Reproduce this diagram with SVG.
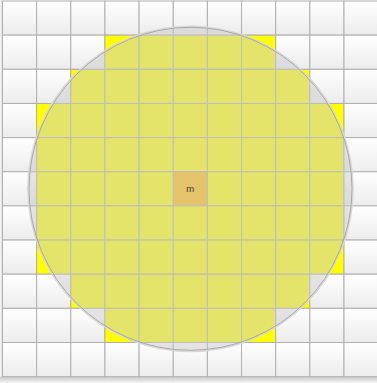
<svg xmlns="http://www.w3.org/2000/svg" xmlns:xlink="http://www.w3.org/1999/xlink" width="377" height="383" viewBox="0 0 377 383">
<style>
.w{fill:url(#gw);stroke:#b0b0b0;stroke-width:1}
.y{fill:#ffff00;stroke:#b0b0b0;stroke-width:1}
.o{fill:#ffba00;stroke:#b0b0b0;stroke-width:1}
.lbl{font-family:"Liberation Sans",Arial,sans-serif;font-size:9.5px;fill:#3a3a3a;text-anchor:middle}
</style>
<defs>
<linearGradient id="gw" x1="0" y1="0" x2="0" y2="1">
<stop offset="0" stop-color="#ffffff"/>
<stop offset="1" stop-color="#ececec"/>
</linearGradient>
<linearGradient id="gs" x1="0" y1="0" x2="0" y2="1">
<stop offset="0" stop-color="#c8c8c8"/>
<stop offset="1" stop-color="#f4f4f4"/>
</linearGradient>
<rect id="cw" class="w" width="34.15" height="34.15"/>
<rect id="cy" class="y" width="34.15" height="34.15"/>
</defs>
<rect x="0" y="0" width="377" height="383" fill="#ffffff"/>
<rect x="0" y="376.6" width="377" height="6.4" fill="url(#gs)"/>
<rect x="0.5" y="0" width="2" height="377" fill="#e6e6e6"/>
<g id="grid">
<g id="row0" transform="translate(0,1)">
<use id="c0-0" href="#cw" x="2.5"/><use id="c0-1" href="#cw" x="36.65"/><use id="c0-2" href="#cw" x="70.8"/><use id="c0-3" href="#cw" x="104.95"/><use id="c0-4" href="#cw" x="139.1"/><use id="c0-5" href="#cw" x="173.25"/><use id="c0-6" href="#cw" x="207.4"/><use id="c0-7" href="#cw" x="241.55"/><use id="c0-8" href="#cw" x="275.7"/><use id="c0-9" href="#cw" x="309.85"/><use id="c0-10" href="#cw" x="344"/>
</g>
<g id="row1" transform="translate(0,35.15)">
<use id="c1-0" href="#cw" x="2.5"/><use id="c1-1" href="#cw" x="36.65"/><use id="c1-2" href="#cw" x="70.8"/><use id="c1-3" href="#cy" x="104.95"/><use id="c1-4" href="#cy" x="139.1"/><use id="c1-5" href="#cy" x="173.25"/><use id="c1-6" href="#cy" x="207.4"/><use id="c1-7" href="#cy" x="241.55"/><use id="c1-8" href="#cw" x="275.7"/><use id="c1-9" href="#cw" x="309.85"/><use id="c1-10" href="#cw" x="344"/>
</g>
<g id="row2" transform="translate(0,69.3)">
<use id="c2-0" href="#cw" x="2.5"/><use id="c2-1" href="#cw" x="36.65"/><use id="c2-2" href="#cy" x="70.8"/><use id="c2-3" href="#cy" x="104.95"/><use id="c2-4" href="#cy" x="139.1"/><use id="c2-5" href="#cy" x="173.25"/><use id="c2-6" href="#cy" x="207.4"/><use id="c2-7" href="#cy" x="241.55"/><use id="c2-8" href="#cy" x="275.7"/><use id="c2-9" href="#cw" x="309.85"/><use id="c2-10" href="#cw" x="344"/>
</g>
<g id="row3" transform="translate(0,103.45)">
<use id="c3-0" href="#cw" x="2.5"/><use id="c3-1" href="#cy" x="36.65"/><use id="c3-2" href="#cy" x="70.8"/><use id="c3-3" href="#cy" x="104.95"/><use id="c3-4" href="#cy" x="139.1"/><use id="c3-5" href="#cy" x="173.25"/><use id="c3-6" href="#cy" x="207.4"/><use id="c3-7" href="#cy" x="241.55"/><use id="c3-8" href="#cy" x="275.7"/><use id="c3-9" href="#cy" x="309.85"/><use id="c3-10" href="#cw" x="344"/>
</g>
<g id="row4" transform="translate(0,137.6)">
<use id="c4-0" href="#cw" x="2.5"/><use id="c4-1" href="#cy" x="36.65"/><use id="c4-2" href="#cy" x="70.8"/><use id="c4-3" href="#cy" x="104.95"/><use id="c4-4" href="#cy" x="139.1"/><use id="c4-5" href="#cy" x="173.25"/><use id="c4-6" href="#cy" x="207.4"/><use id="c4-7" href="#cy" x="241.55"/><use id="c4-8" href="#cy" x="275.7"/><use id="c4-9" href="#cy" x="309.85"/><use id="c4-10" href="#cw" x="344"/>
</g>
<g id="row5" transform="translate(0,171.75)">
<use id="c5-0" href="#cw" x="2.5"/><use id="c5-1" href="#cy" x="36.65"/><use id="c5-2" href="#cy" x="70.8"/><use id="c5-3" href="#cy" x="104.95"/><use id="c5-4" href="#cy" x="139.1"/><rect id="c5-5" class="o" x="173.25" width="34.15" height="34.15"/><use id="c5-6" href="#cy" x="207.4"/><use id="c5-7" href="#cy" x="241.55"/><use id="c5-8" href="#cy" x="275.7"/><use id="c5-9" href="#cy" x="309.85"/><use id="c5-10" href="#cw" x="344"/>
</g>
<g id="row6" transform="translate(0,205.9)">
<use id="c6-0" href="#cw" x="2.5"/><use id="c6-1" href="#cy" x="36.65"/><use id="c6-2" href="#cy" x="70.8"/><use id="c6-3" href="#cy" x="104.95"/><use id="c6-4" href="#cy" x="139.1"/><use id="c6-5" href="#cy" x="173.25"/><use id="c6-6" href="#cy" x="207.4"/><use id="c6-7" href="#cy" x="241.55"/><use id="c6-8" href="#cy" x="275.7"/><use id="c6-9" href="#cy" x="309.85"/><use id="c6-10" href="#cw" x="344"/>
</g>
<g id="row7" transform="translate(0,240.05)">
<use id="c7-0" href="#cw" x="2.5"/><use id="c7-1" href="#cy" x="36.65"/><use id="c7-2" href="#cy" x="70.8"/><use id="c7-3" href="#cy" x="104.95"/><use id="c7-4" href="#cy" x="139.1"/><use id="c7-5" href="#cy" x="173.25"/><use id="c7-6" href="#cy" x="207.4"/><use id="c7-7" href="#cy" x="241.55"/><use id="c7-8" href="#cy" x="275.7"/><use id="c7-9" href="#cy" x="309.85"/><use id="c7-10" href="#cw" x="344"/>
</g>
<g id="row8" transform="translate(0,274.2)">
<use id="c8-0" href="#cw" x="2.5"/><use id="c8-1" href="#cw" x="36.65"/><use id="c8-2" href="#cy" x="70.8"/><use id="c8-3" href="#cy" x="104.95"/><use id="c8-4" href="#cy" x="139.1"/><use id="c8-5" href="#cy" x="173.25"/><use id="c8-6" href="#cy" x="207.4"/><use id="c8-7" href="#cy" x="241.55"/><use id="c8-8" href="#cy" x="275.7"/><use id="c8-9" href="#cw" x="309.85"/><use id="c8-10" href="#cw" x="344"/>
</g>
<g id="row9" transform="translate(0,308.35)">
<use id="c9-0" href="#cw" x="2.5"/><use id="c9-1" href="#cw" x="36.65"/><use id="c9-2" href="#cw" x="70.8"/><use id="c9-3" href="#cy" x="104.95"/><use id="c9-4" href="#cy" x="139.1"/><use id="c9-5" href="#cy" x="173.25"/><use id="c9-6" href="#cy" x="207.4"/><use id="c9-7" href="#cy" x="241.55"/><use id="c9-8" href="#cw" x="275.7"/><use id="c9-9" href="#cw" x="309.85"/><use id="c9-10" href="#cw" x="344"/>
</g>
<g id="row10" transform="translate(0,342.5)">
<use id="c10-0" href="#cw" x="2.5"/><use id="c10-1" href="#cw" x="36.65"/><use id="c10-2" href="#cw" x="70.8"/><use id="c10-3" href="#cw" x="104.95"/><use id="c10-4" href="#cw" x="139.1"/><use id="c10-5" href="#cw" x="173.25"/><use id="c10-6" href="#cw" x="207.4"/><use id="c10-7" href="#cw" x="241.55"/><use id="c10-8" href="#cw" x="275.7"/><use id="c10-9" href="#cw" x="309.85"/><use id="c10-10" href="#cw" x="344"/>
</g>
</g>
<g id="range">
<circle cx="190.5" cy="188.8" r="162.6" fill="none" stroke="#d8d8d8" stroke-width="1.5"/>
<circle cx="190.5" cy="188.8" r="161.5" fill="#cccccc" fill-opacity="0.52" stroke="#a8a8a8" stroke-width="1"/>
</g>
<g id="label">
<text class="lbl" x="190.3" y="192.3">m</text>
</g>
</svg>
